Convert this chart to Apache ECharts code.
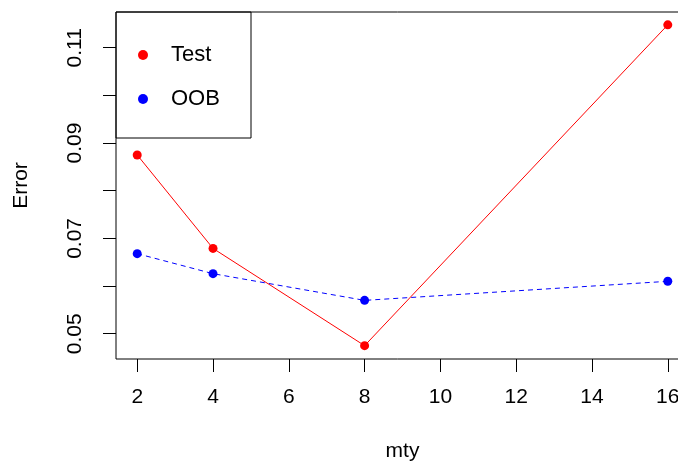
<!DOCTYPE html>
<html>
<head>
<meta charset="utf-8">
<script src="https://cdn.jsdelivr.net/npm/echarts@6/dist/echarts.min.js"></script>
<style>
  html, body { margin: 0; padding: 0; background: #fff; }
  #chart { width: 678px; height: 461px; }
</style>
</head>
<body>
<div id="chart"></div>
<script>
    // mty values and the two error curves
    var mtyValues = [2, 4, 8, 16];
    var testError = [0.0875, 0.0679, 0.0475, 0.1148];
    var oobError = [0.0668, 0.0626, 0.0570, 0.0610];

    // tick marks / labels like the R plot
    var xTicks = [2, 4, 6, 8, 10, 12, 14, 16];
    var yTicks = [0.05, 0.06, 0.07, 0.08, 0.09, 0.10, 0.11];
    var yLabels = [0.05, 0.07, 0.09, 0.11];

    function pairs(xs, ys) {
        return xs.map(function (x, i) { return [x, ys[i]]; });
    }

    var font = 'Liberation Sans, Arial, sans-serif';
    var chart = echarts.init(document.getElementById('chart'));
    var option = {
        animation: false,
        textStyle: { fontFamily: font, color: '#000' },
        grid: {
            show: true,
            left: 116,
            top: 12,
            right: -11,
            bottom: 102,
            containLabel: false,
            outerBoundsMode: 'none',
            borderColor: '#000',
            borderWidth: 1
        },
        legend: {
            orient: 'vertical',
            left: 138,
            top: 44,
            padding: 0,
            itemGap: 22,
            itemWidth: 10,
            itemHeight: 10,
            icon: 'circle',
            textStyle: { fontSize: 22, fontFamily: font, color: '#000', lineHeight: 22, padding: [0, 0, 0, 18] },
            data: ['Test', 'OOB']
        },
        graphic: [{
            type: 'rect',
            shape: { x: 116, y: 12, width: 135, height: 126 },
            style: { fill: '#fff', stroke: '#000', lineWidth: 1 },
            z: -1,
            zlevel: 0
        }],
        xAxis: {
            type: 'value',
            min: 1.44,
            max: 16.56,
            name: 'mty',
            nameLocation: 'middle',
            nameGap: 82,
            nameTextStyle: { fontSize: 21, fontFamily: font, color: '#000' },
            splitLine: { show: false },
            axisLine: { show: false },
            axisTick: { show: true, length: 13, customValues: xTicks, lineStyle: { color: '#000' } },
            axisLabel: { fontSize: 21, margin: 28, color: '#000', customValues: xTicks }
        },
        yAxis: {
            type: 'value',
            min: 0.0447,
            max: 0.1175,
            name: 'Error',
            nameLocation: 'middle',
            nameGap: 84,
            nameTextStyle: { fontSize: 21, fontFamily: font, color: '#000' },
            splitLine: { show: false },
            axisLine: { show: false },
            axisTick: { show: true, length: 13, customValues: yTicks, lineStyle: { color: '#000' } },
            axisLabel: {
                fontSize: 21, margin: 30, rotate: 90, color: '#000',
                customValues: yLabels,
                formatter: function (v) { return v.toFixed(2); }
            }
        },
        series: [
            {
                name: 'Test',
                type: 'line',
                data: pairs(mtyValues, testError),
                symbol: 'circle',
                symbolSize: 9,
                itemStyle: { color: '#ff0000' },
                lineStyle: { color: '#ff0000', width: 1 },
                z: 3
            },
            {
                name: 'OOB',
                type: 'line',
                data: pairs(mtyValues, oobError),
                symbol: 'circle',
                symbolSize: 9,
                itemStyle: { color: '#0000ff' },
                lineStyle: { color: '#0000ff', width: 1, type: [5, 4] },
                z: 2
            }
        ]
    };
    chart.setOption(option);
</script>
</body>
</html>
